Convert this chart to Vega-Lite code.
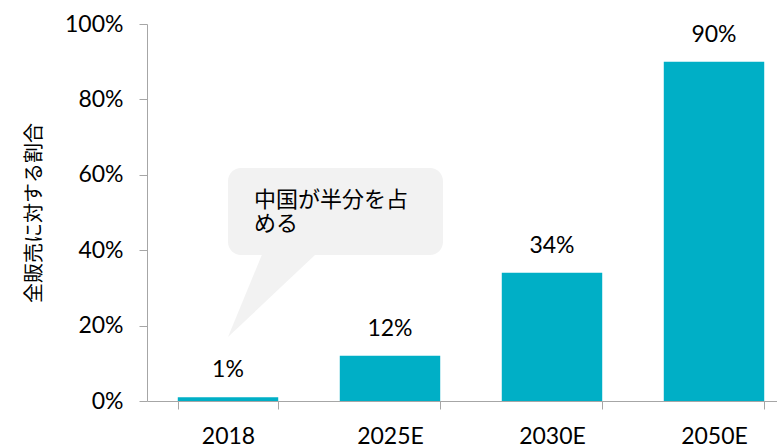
{
  "$schema": "https://vega.github.io/schema/vega-lite/v6.json",
  "width": 630,
  "height": 377,
  "autosize": {"type": "none"},
  "padding": {"left": 147, "top": 24, "right": 0, "bottom": 46},
  "background": "white",
  "config": {"view": {"stroke": null}, "font": "Lato"},
  "datasets": {
    "sales": [
      {"year": "2018", "share": 0.01},
      {"year": "2025E", "share": 0.12},
      {"year": "2030E", "share": 0.34},
      {"year": "2050E", "share": 0.90}
    ],
    "bubble": [{"x0": 0.5, "x1": 1.827, "y0": 0.387, "y1": 0.618}],
    "pointer": [
      {"px": 0.5, "lo": 0.170, "hi": 0.170},
      {"px": 0.716, "lo": 0.257, "hi": 0.395},
      {"px": 1.056, "lo": 0.395, "hi": 0.395}
    ],
    "note": [
      {"tx": 0.66, "ty": 0.533, "label": "中国が半分を占\nめる"}
    ]
  },
  "resolve": {"scale": {"x": "independent"}, "axis": {"x": "independent"}},
  "layer": [
    {
      "data": {"name": "sales"},
      "encoding": {
        "x": {
          "field": "year", "type": "nominal", "sort": null,
          "scale": {"range": [0, 648], "paddingInner": 0.38, "paddingOuter": 0.19},
          "axis": {
            "title": null, "labelAngle": 0, "tickBand": "extent",
            "domainColor": "#a6a6a6", "tickColor": "#a6a6a6", "tickSize": 8,
            "labelFontSize": 23, "labelColor": "#000000", "labelPadding": 16,
            "labelFont": "Lato"
          }
        },
        "y": {
          "field": "share", "type": "quantitative",
          "scale": {"domain": [0, 1], "nice": false},
          "axis": {
            "values": [0, 0.2, 0.4, 0.6, 0.8, 1.0], "format": ".0%", "grid": false,
            "domainColor": "#a6a6a6", "tickColor": "#a6a6a6", "tickSize": 8,
            "labelFontSize": 23, "labelColor": "#000000", "labelPadding": 16,
            "labelFont": "Lato",
            "title": "全販売に対する割合", "titleFont": "Noto Sans CJK JP",
            "titleFontSize": 20, "titleFontWeight": "normal", "titleColor": "#000000",
            "titlePadding": 20
          }
        }
      },
      "layer": [
        {"mark": {"type": "bar", "color": "#00AFC6"}},
        {
          "mark": {"type": "text", "baseline": "bottom", "dy": -15, "fontSize": 23, "font": "Lato", "color": "#000000"},
          "encoding": {"text": {"field": "share", "type": "quantitative", "format": ".0%"}}
        }
      ]
    },
    {
      "data": {"name": "bubble"},
      "mark": {"type": "rect", "color": "#f2f2f2", "cornerRadius": 13},
      "encoding": {
        "x": {"field": "x0", "type": "quantitative", "scale": {"domain": [0, 4], "range": [0, 648]}, "axis": null},
        "x2": {"field": "x1"},
        "y": {"field": "y0", "type": "quantitative"},
        "y2": {"field": "y1"}
      }
    },
    {
      "data": {"name": "pointer"},
      "mark": {"type": "area", "color": "#f2f2f2", "opacity": 1},
      "encoding": {
        "x": {"field": "px", "type": "quantitative", "scale": {"domain": [0, 4], "range": [0, 648]}, "axis": null},
        "y": {"field": "lo", "type": "quantitative"},
        "y2": {"field": "hi"}
      }
    },
    {
      "data": {"name": "note"},
      "mark": {"type": "text", "align": "left", "baseline": "middle", "fontSize": 22, "lineHeight": 24, "lineBreak": "\n", "font": "Noto Sans CJK JP", "color": "#000000"},
      "encoding": {
        "x": {"field": "tx", "type": "quantitative", "scale": {"domain": [0, 4], "range": [0, 648]}, "axis": null},
        "y": {"field": "ty", "type": "quantitative"},
        "text": {"field": "label"}
      }
    }
  ]
}
